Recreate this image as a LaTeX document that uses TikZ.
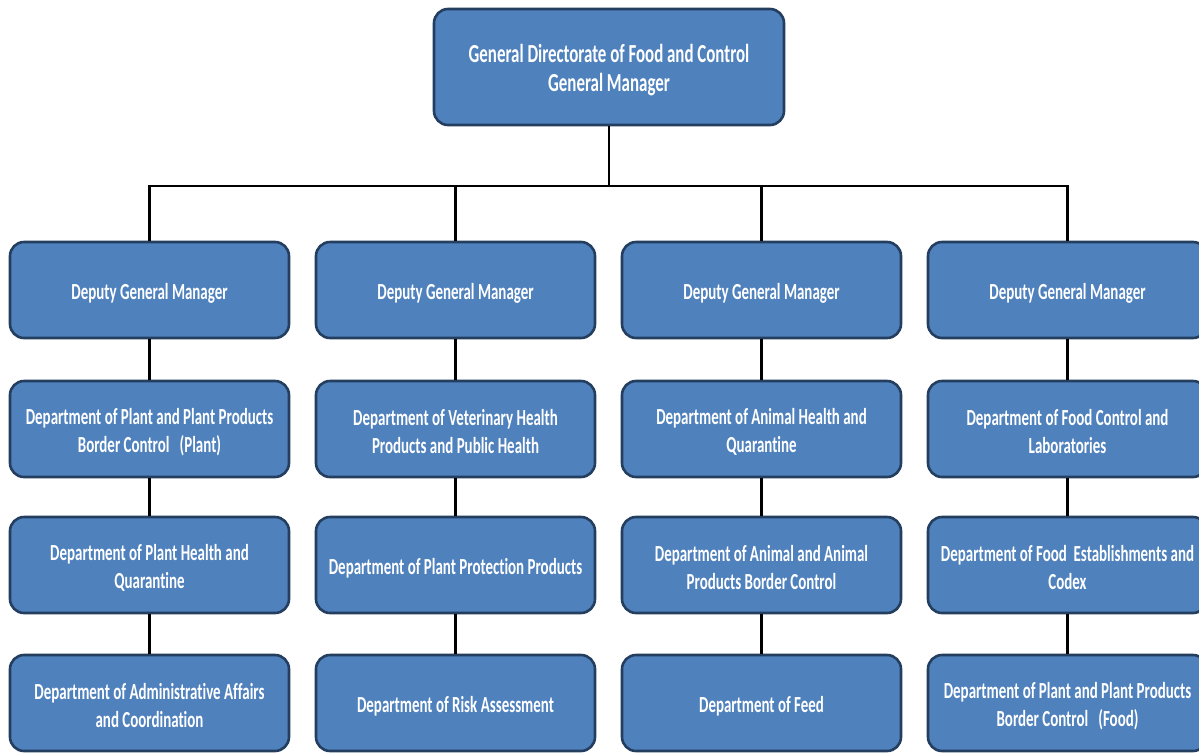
\documentclass[tikz,border=0pt]{standalone}
\usepackage{fontspec}
\setmainfont{Carlito}[FakeStretch=0.65,Ligatures=NoCommon]
\definecolor{boxfill}{HTML}{4F81BD}
\definecolor{boxline}{HTML}{233E5E}
\newcommand{\orgnode}[5][orgtext]{%
  \node[#2] (#3) at #4 {};
  \node[#1] (#3t) at ([yshift=-3pt]#3.center) {#5};}
\begin{document}
\begin{tikzpicture}[x=1pt,y=-1pt,
  orgbox/.style={rectangle, rounded corners=14pt, fill=boxfill, draw=boxline, line width=2.6pt,
    minimum width=279pt, minimum height=96pt, inner sep=0pt},
  topbox/.style={orgbox, minimum width=350pt, minimum height=116pt},
  orgtext/.style={inner sep=0pt, align=center, text=white,
    font=\fontsize{23}{28}\selectfont\bfseries},
  toptext/.style={orgtext, font=\fontsize{26}{29.5}\selectfont\bfseries},
  link/.style={draw=black, line width=2.6pt}]
\useasboundingbox (0,0) rectangle (1199,753);
\clip (0,0) rectangle (1199,753);
% top
\orgnode[toptext]{topbox}{top}{(609,67)}{General Directorate of Food and Control\\General Manager}
% row 1
\orgnode{orgbox}{d1}{(149.5,290)}{Deputy General Manager}
\orgnode{orgbox}{d2}{(455.5,290)}{Deputy General Manager}
\orgnode{orgbox}{d3}{(761.5,290)}{Deputy General Manager}
\orgnode{orgbox}{d4}{(1067.5,290)}{Deputy General Manager}
% row 2
\orgnode{orgbox}{a1}{(149.5,429)}{Department of Plant and Plant Products\\Border Control\ \ \ (Plant)}
\orgnode{orgbox}{a2}{(455.5,429)}{Department of Veterinary Health\\Products and Public Health}
\orgnode{orgbox}{a3}{(761.5,429)}{Department of Animal Health and\\Quarantine}
\orgnode{orgbox}{a4}{(1067.5,429)}{Department of Food Control and\\Laboratories}
% row 3
\orgnode{orgbox}{b1}{(149.5,565)}{Department of Plant Health and\\Quarantine}
\orgnode{orgbox}{b2}{(455.5,565)}{Department of Plant Protection Products}
\orgnode{orgbox}{b3}{(761.5,565)}{Department of Animal and Animal\\Products Border Control}
\orgnode{orgbox}{b4}{(1067.5,565)}{Department of Food\ \ Establishments and\\Codex}
% row 4
\orgnode{orgbox}{c1}{(149.5,703)}{Department of Administrative Affairs\\and Coordination}
\orgnode{orgbox}{c2}{(455.5,703)}{Department of Risk Assessment}
\orgnode{orgbox}{c3}{(761.5,703)}{Department of Feed}
\orgnode{orgbox}{c4}{(1067.5,703)}{Department of Plant and Plant Products\\Border Control\ \ \ (Food)}
% connectors
\coordinate (bus) at (609,186);
\draw[link] (top.south) -- (bus);
\draw[link] (d1.north) |- (bus) -| (d4.north);
\foreach \c in {2,3} {\draw[link] (d\c.north) -- (d\c.north |- bus);}
\foreach \c in {1,2,3,4} {
  \draw[link] (d\c) -- (a\c);
  \draw[link] (a\c) -- (b\c);
  \draw[link] (b\c) -- (c\c);
}
\end{tikzpicture}
\end{document}
